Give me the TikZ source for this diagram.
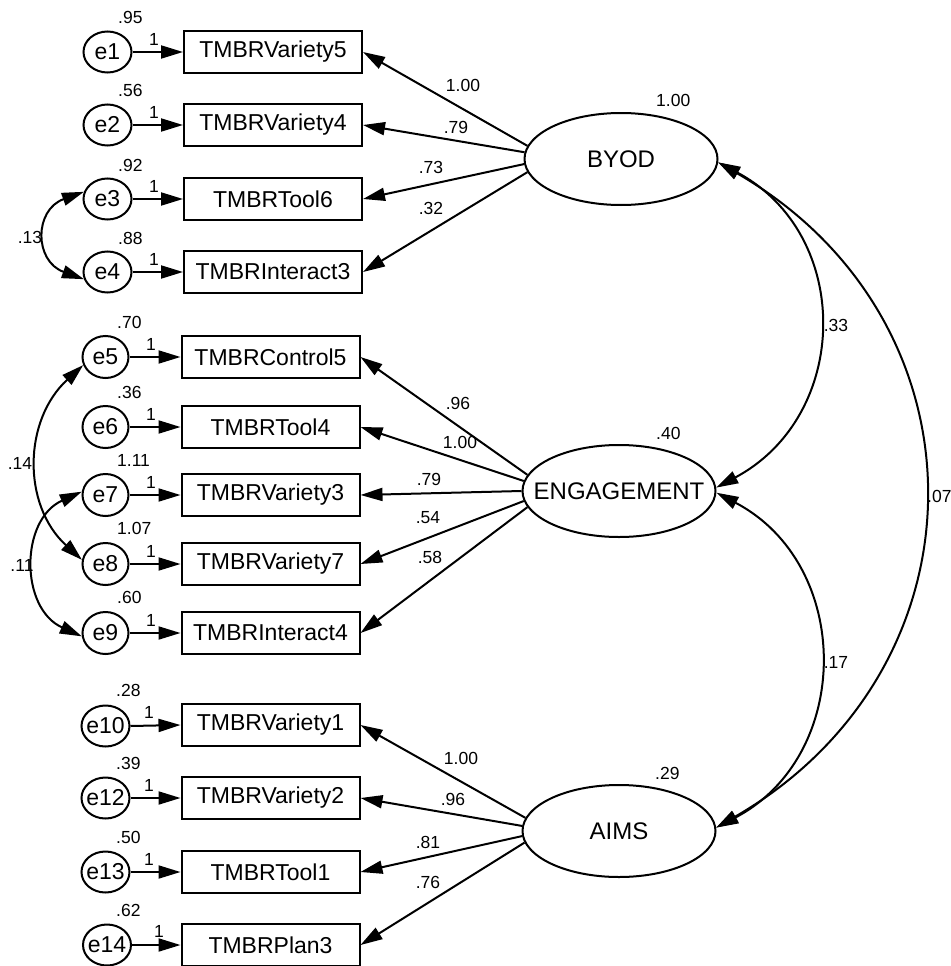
\documentclass[tikz,border=0pt]{standalone}
\usepackage{fontspec}
\setmainfont{Liberation Sans}
\usetikzlibrary{arrows.meta,shapes.geometric}

\tikzset{
  x=1pt, y=-1pt,
  >={Triangle[length=22pt,width=13pt]},
  boxv/.style={draw, line width=2pt, minimum width=178pt, minimum height=42pt,
    inner sep=0pt, font=\fontsize{23}{27}\selectfont},
  errc/.style={draw, ellipse, line width=2pt, minimum width=48pt, minimum height=41pt,
    inner sep=0pt, font=\fontsize{23}{27}\selectfont},
  latv/.style={draw, ellipse, line width=2pt, minimum width=193pt, minimum height=92pt,
    inner sep=0pt, font=\fontsize{24}{28}\selectfont},
  lbl/.style={inner sep=0pt, font=\fontsize{17.5}{20}\selectfont},
  arr/.style={line width=2pt, ->},
  covarr/.style={line width=2pt, <->},
}
% centred text that does not widen its ellipse
\newcommand{\ctext}[1]{\makebox[0pt][c]{#1}}

\begin{document}
\begin{tikzpicture}
\useasboundingbox (0,0) rectangle (950,966);

% ---------- latent variables ----------
\node[latv] (BYOD) at (621,159) {\ctext{BYOD}};
\node[latv] (ENG)  at (619,491) {\ctext{ENGAGEMENT}};
\node[latv] (AIMS) at (619,831) {\ctext{AIMS}};

\node[lbl, anchor=west] (vB) at (656,100) {1.00};
\node[lbl, anchor=west] (vE) at (656,433) {.40};
\node[lbl, anchor=west] (vA) at (655,773) {.29};

% ---------- BYOD indicators ----------
\node[boxv] (v5) at (273,52)  {TMBRVariety5};
\node[boxv] (v4) at (273,125) {TMBRVariety4};
\node[boxv] (t6) at (273,199) {TMBRTool6};
\node[boxv] (i3) at (273,272) {TMBRInteract3};

\node[errc] (e1) at (107.5,52)  {e1};
\node[errc] (e2) at (107.5,125) {e2};
\node[errc] (e3) at (107.5,199) {e3};
\node[errc] (e4) at (107.5,272) {e4};

% ---------- ENGAGEMENT indicators ----------
\node[boxv] (c5) at (270.5,357) {TMBRControl5};
\node[boxv] (t4) at (270.5,427) {TMBRTool4};
\node[boxv] (v3) at (270.5,495) {TMBRVariety3};
\node[boxv] (v7) at (270.5,564) {TMBRVariety7};
\node[boxv] (i4) at (270.5,633) {TMBRInteract4};

\node[errc, minimum width=46pt, minimum height=42pt] (e5) at (105.5,357) {e5};
\node[errc, minimum width=46pt, minimum height=42pt] (e6) at (105.5,427) {e6};
\node[errc, minimum width=46pt, minimum height=42pt] (e7) at (105.5,495) {e7};
\node[errc, minimum width=46pt, minimum height=42pt] (e8) at (105.5,564) {e8};
\node[errc, minimum width=46pt, minimum height=42pt] (e9) at (105.5,633) {e9};

% ---------- AIMS indicators ----------
\node[boxv] (v1) at (270.5,725) {TMBRVariety1};
\node[boxv] (v2) at (270.5,798) {TMBRVariety2};
\node[boxv] (t1) at (270.5,872) {TMBRTool1};
\node[boxv] (p3) at (270.5,945) {TMBRPlan3};

\node[errc] (e10) at (105.5,726) {\ctext{e10}};
\node[errc] (e12) at (105.5,798) {\ctext{e12}};
\node[errc] (e13) at (105.5,872) {\ctext{e13}};
\node[errc] (e14) at (107,945)   {\ctext{e14}};

% ---------- error variances ----------
\node[lbl, anchor=west] (ve1)  at (118,17)  {.95};
\node[lbl, anchor=west] (ve2)  at (118,90)  {.56};
\node[lbl, anchor=west] (ve3)  at (118,165) {.92};
\node[lbl, anchor=west] (ve4)  at (118,238) {.88};
\node[lbl, anchor=west] (ve5)  at (117,322) {.70};
\node[lbl, anchor=west] (ve6)  at (117,392) {.36};
\node[lbl, anchor=west] (ve7)  at (117,460) {1.11};
\node[lbl, anchor=west] (ve8)  at (117,528) {1.07};
\node[lbl, anchor=west] (ve9)  at (117,597) {.60};
\node[lbl, anchor=west] (ve10) at (116,690) {.28};
\node[lbl, anchor=west] (ve12) at (116,763) {.39};
\node[lbl, anchor=west] (ve13) at (116,837) {.50};
\node[lbl, anchor=west] (ve14) at (116,910) {.62};

% ---------- error paths (fixed at 1) ----------
\foreach \e/\b in {e1/v5, e2/v4, e3/t6, e4/i3, e5/c5, e6/t4, e7/v3, e8/v7, e9/i4,
                   e10/v1, e12/v2, e13/t1, e14/p3}
  \draw[arr] (\e.east) -- (\b.west);

\node[lbl] (o1)  at (154,39)  {1};
\node[lbl] (o2)  at (154,112) {1};
\node[lbl] (o3)  at (154,186) {1};
\node[lbl] (o4)  at (154,259) {1};
\node[lbl] (o5)  at (151,344) {1};
\node[lbl] (o6)  at (151,414) {1};
\node[lbl] (o7)  at (151,482) {1};
\node[lbl] (o8)  at (151,551) {1};
\node[lbl] (o9)  at (151,620) {1};
\node[lbl] (o10) at (149,712) {1};
\node[lbl] (o12) at (149,785) {1};
\node[lbl] (o13) at (149,859) {1};
\node[lbl] (o14) at (159,931) {1};

% ---------- factor loadings ----------
\draw[arr] (BYOD.172) -- (v5.east);
\draw[arr] (BYOD.176) -- (v4.east);
\draw[arr] (BYOD.183) -- (t6.east);
\draw[arr] (BYOD.188) -- (i3.east);

\draw[arr] (ENG.170) -- (c5.east);
\draw[arr] (ENG.174) -- (t4.east);
\draw[arr] (ENG.180) -- (v3.east);
\draw[arr] (ENG.186) -- (v7.east);
\draw[arr] (ENG.190) -- (i4.east);

\draw[arr] (AIMS.172) -- (v1.east);
\draw[arr] (AIMS.177) -- (v2.east);
\draw[arr] (AIMS.183) -- (t1.east);
\draw[arr] (AIMS.187) -- (p3.east);

\node[lbl] (lb1) at (463,85)  {1.00};
\node[lbl] (lb2) at (456,127) {.79};
\node[lbl] (lb3) at (431,167) {.73};
\node[lbl] (lb4) at (431,208) {.32};

\node[lbl] (le1) at (458,403) {.96};
\node[lbl] (le2) at (460,442) {1.00};
\node[lbl] (le3) at (429,479) {.79};
\node[lbl] (le4) at (428,518) {.54};
\node[lbl] (le5) at (430,557) {.58};

\node[lbl] (la1) at (461,758) {1.00};
\node[lbl] (la2) at (453,799) {.96};
\node[lbl] (la3) at (428,842) {.81};
\node[lbl] (la4) at (428,882) {.76};

% ---------- factor covariances ----------
\draw[covarr] (BYOD.-2) .. controls +(135,72) and +(135,-72) .. (ENG.2);
\draw[covarr] (ENG.-1) .. controls +(137,72) and +(137,-72) .. (AIMS.2);
\draw[covarr] (BYOD.-2) .. controls +(275,159) and +(275,-159) .. (AIMS.2);

\node[lbl] (c33) at (836,325) {.33};
\node[lbl] (c17) at (836,662) {.17};
\node[lbl, anchor=west] (c07) at (927,496) {.07};

% ---------- error covariances ----------
\draw[covarr] (e3.163) .. controls +(-50,18) and +(-50,-18) .. (e4.197);
\draw[covarr] (e5.200) .. controls +(-60,55) and +(-60,-55) .. (e8.170);
\draw[covarr] (e7.172) .. controls +(-62,28) and +(-62,-28) .. (e9.188);

\node[lbl] (c13) at (30,237) {.13};
\node[lbl] (c14) at (20,463) {.14};
\node[lbl] (c11) at (22,565) {.11};

\end{tikzpicture}
\end{document}
